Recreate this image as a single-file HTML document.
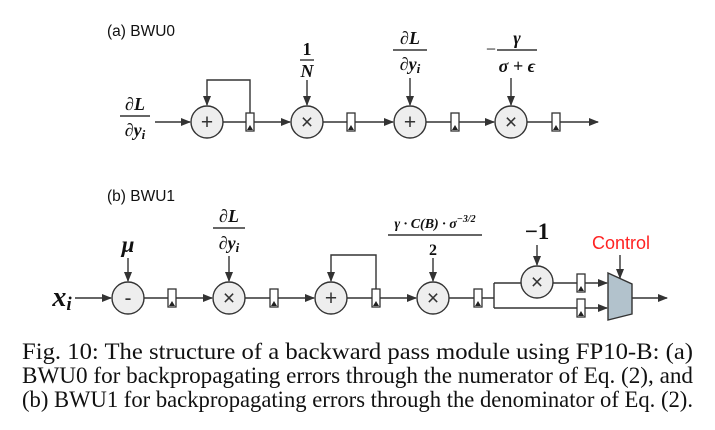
<!DOCTYPE html>
<html><head><meta charset="utf-8"><style>
html,body{margin:0;padding:0;background:#fff}
svg{display:block}
.s{font-family:"Liberation Sans",sans-serif}
.m{font-family:"Liberation Serif","DejaVu Serif",serif;font-weight:bold;font-style:italic}
.c{font-family:"Liberation Serif",serif;font-size:23px}
</style></head><body>
<svg width="715" height="430" viewBox="0 0 715 430" xmlns="http://www.w3.org/2000/svg">
<defs>
<marker id="a" markerWidth="10" markerHeight="8" refX="9" refY="4" orient="auto" markerUnits="userSpaceOnUse"><path d="M0,0L10,4L0,8z" fill="#333"/></marker>
<g id="r"><rect x="-4" y="-9" width="8" height="18" fill="#fff" stroke="#333" stroke-width="1.3"/><path d="M-3,8L0,3L3,8z" fill="#222"/></g>
</defs>
<g stroke="#333" stroke-width="1.4" fill="none">
<line x1="155" y1="122" x2="190" y2="122" marker-end="url(#a)"/>
<line x1="223" y1="122" x2="246" y2="122"/>
<line x1="254" y1="122" x2="290" y2="122" marker-end="url(#a)"/>
<line x1="323" y1="122" x2="347" y2="122"/>
<line x1="355" y1="122" x2="393" y2="122" marker-end="url(#a)"/>
<line x1="426" y1="122" x2="451" y2="122"/>
<line x1="459" y1="122" x2="494" y2="122" marker-end="url(#a)"/>
<line x1="527" y1="122" x2="552" y2="122"/>
<line x1="560" y1="122" x2="598" y2="122" marker-end="url(#a)"/>
<path d="M250,113V80H207V105" marker-end="url(#a)"/>
<line x1="307" y1="80" x2="307" y2="105" marker-end="url(#a)"/>
<line x1="410" y1="78" x2="410" y2="105" marker-end="url(#a)"/>
<line x1="511" y1="78" x2="511" y2="105" marker-end="url(#a)"/>
<line x1="120" y1="116" x2="150" y2="116"/>
<line x1="300" y1="60" x2="314" y2="60"/>
<line x1="393" y1="50" x2="427" y2="50"/>
<line x1="497" y1="50" x2="537" y2="50"/>
<line x1="75" y1="298" x2="111" y2="298" marker-end="url(#a)"/>
<line x1="144" y1="298" x2="168" y2="298"/>
<line x1="176" y1="298" x2="212" y2="298" marker-end="url(#a)"/>
<line x1="245" y1="298" x2="270" y2="298"/>
<line x1="278" y1="298" x2="314" y2="298" marker-end="url(#a)"/>
<line x1="347" y1="298" x2="372" y2="298"/>
<line x1="380" y1="298" x2="416" y2="298" marker-end="url(#a)"/>
<line x1="449" y1="298" x2="474" y2="298"/>
<path d="M482,298H494M494,283V308M494,283H521M494,308H577"/>
<line x1="553" y1="283" x2="577" y2="283"/>
<line x1="585" y1="283" x2="607" y2="283" marker-end="url(#a)"/>
<line x1="585" y1="308" x2="607" y2="308" marker-end="url(#a)"/>
<line x1="632" y1="298" x2="667" y2="298" marker-end="url(#a)"/>
<path d="M376,289V255H331V281" marker-end="url(#a)"/>
<line x1="128" y1="258" x2="128" y2="281" marker-end="url(#a)"/>
<line x1="229" y1="256" x2="229" y2="281" marker-end="url(#a)"/>
<line x1="433" y1="258" x2="433" y2="281" marker-end="url(#a)"/>
<line x1="537" y1="245" x2="537" y2="265" marker-end="url(#a)"/>
<line x1="620" y1="255" x2="620" y2="278" marker-end="url(#a)"/>
<line x1="213" y1="228" x2="245" y2="228"/>
<line x1="388" y1="235" x2="482" y2="235"/>
</g>
<g fill="#eee" stroke="#333" stroke-width="1.4">
<circle cx="207" cy="122" r="16"/><circle cx="307" cy="122" r="16"/><circle cx="410" cy="122" r="16"/><circle cx="511" cy="122" r="16"/>
<circle cx="128" cy="298" r="16"/><circle cx="229" cy="298" r="16"/><circle cx="331" cy="298" r="16"/><circle cx="433" cy="298" r="16"/><circle cx="537" cy="282" r="16"/>
</g>
<polygon points="608,273 632,284 632,314 608,320" fill="#b2c2cc" stroke="#333" stroke-width="1.4"/>
<use href="#r" x="250" y="122"/><use href="#r" x="351" y="122"/><use href="#r" x="455" y="122"/><use href="#r" x="556" y="122"/>
<use href="#r" x="172" y="298"/><use href="#r" x="274" y="298"/><use href="#r" x="376" y="298"/><use href="#r" x="478" y="298"/><use href="#r" x="581" y="283"/><use href="#r" x="581" y="308"/>
<g class="s" font-size="21" fill="#333" text-anchor="middle">
<text x="207" y="129">+</text><text x="307" y="129">×</text><text x="410" y="129">+</text><text x="511" y="129">×</text>
<text x="128" y="305">-</text><text x="229" y="305">×</text><text x="331" y="305">+</text><text x="433" y="305">×</text><text x="537" y="289">×</text>
</g>
<g class="s" font-size="15.5" fill="#111">
<text x="107" y="36">(a) BWU0</text>
<text x="107" y="201">(b) BWU1</text>
</g>
<text class="s" x="621" y="249" font-size="18" fill="#f22" text-anchor="middle">Control</text>
<g class="m" fill="#111" font-size="18" text-anchor="middle">
<text x="135" y="110">∂L</text><text x="135" y="136">∂y<tspan font-size="13" dy="3">i</tspan></text>
<text x="307" y="55" font-style="normal">1</text><text x="307" y="77">N</text>
<text x="410" y="44">∂L</text><text x="410" y="70">∂y<tspan font-size="13" dy="3">i</tspan></text>
<text x="491" y="55" font-style="normal" font-weight="normal">−</text>
<text x="517" y="44">γ</text><text x="517" y="72">σ + ϵ</text>
<text x="62" y="306" font-size="28">x<tspan font-size="19" dy="4">i</tspan></text>
<text x="128" y="252" font-size="23">μ</text>
<text x="229" y="222">∂L</text><text x="229" y="249">∂y<tspan font-size="13" dy="3">i</tspan></text>
<text x="435" y="228" font-size="14">γ · C(B) · σ<tspan font-size="10" dy="-6">−3/2</tspan></text>
<text x="433" y="255" font-style="normal" font-size="16">2</text>
<text x="537" y="239" font-style="normal" font-size="23">−1</text>
</g>
<g class="c" fill="#111">
<text x="22" y="359" textLength="671" lengthAdjust="spacingAndGlyphs">Fig. 10: The structure of a backward pass module using FP10-B: (a)</text>
<text x="22" y="383" textLength="671" lengthAdjust="spacingAndGlyphs">BWU0 for backpropagating errors through the numerator of Eq. (2), and</text>
<text x="22" y="407" textLength="671" lengthAdjust="spacingAndGlyphs">(b) BWU1 for backpropagating errors through the denominator of Eq. (2).</text>
</g>
</svg>
</body></html>
